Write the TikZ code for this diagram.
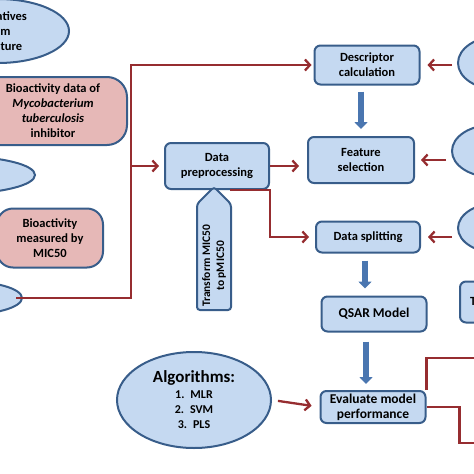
\documentclass[tikz,border=0pt]{standalone}
\usepackage{fontspec}
\setmainfont{Carlito}
\usetikzlibrary{positioning}
\usetikzlibrary{shapes.geometric,shapes.symbols,arrows.meta}
\definecolor{azulclaro}{RGB}{197,217,241}
\definecolor{borde}{RGB}{56,93,138}
\definecolor{rosa}{RGB}{230,184,183}
\definecolor{rojo}{RGB}{150,45,48}
\definecolor{azulflecha}{RGB}{74,118,176}

\begin{document}
\begin{tikzpicture}[x=1pt, y=-1pt,
    every node/.style={font=\bfseries\fontsize{12.5}{15}\selectfont, align=center, text=black},
    caja/.style={draw=borde, line width=2pt, fill=azulclaro, rounded corners=6pt, inner sep=0pt},
    cajarosa/.style={draw=borde, line width=2pt, fill=rosa, rounded corners=20pt, inner sep=0pt},
    elipse/.style={draw=borde, line width=2pt, fill=azulclaro, ellipse, inner sep=0pt},
    linea/.style={draw=rojo, line width=2.3pt},
    flujo/.style={linea, -{Straight Barb[length=5pt,width=11pt]}},
    bajada/.style={draw=azulflecha, line width=5.5pt, -{Triangle[length=7pt,width=13pt]}}]
            \useasboundingbox (0,0) rectangle (474,474);
            \clip (0,0) rectangle (474,474);
            % Nodos
            \node[elipse, minimum width=142pt, minimum height=64pt] (lit) at (-2,31) {Derivatives\\from\\literature};
            \node[cajarosa, minimum width=148pt, minimum height=68pt] (bio) at (53,111) {Bioactivity data of\\\textit{Mycobacterium}\\\textit{tuberculosis}\\inhibitor};
            \node[elipse, minimum width=150pt, minimum height=37pt] (izq2) at (-40,175) {};
            \node[cajarosa, minimum width=106pt, minimum height=59pt, rounded corners=16pt] (mic) at (50,238) {Bioactivity\\measured by\\MIC50};
            \node[elipse, minimum width=120pt, minimum height=34pt] (izq3) at (-38,298) {};
            \coordinate (codo) at (131,298);

            \node[caja, minimum width=104pt, minimum height=46pt] (dp) at (217,166) {Data\\preprocessing};
            \node[caja, signal, signal to=east, rotate=90, rounded corners=3pt, minimum width=123pt, minimum height=34pt,
                  font=\bfseries\fontsize{11.5}{14}\selectfont] (tf) at (214,257) {\hspace*{-18pt}Transform MIC50\\\hspace*{-18pt}to pMIC50};

            \node[caja, minimum width=105pt, minimum height=39pt] (desc) at (367,65) {Descriptor\\calculation};
            \node[caja, minimum width=106pt, minimum height=46pt] (feat) at (361,160) {Feature\\selection};
            \node[caja, minimum width=104pt, minimum height=31pt] (split) at (368,237) {Data splitting};
            \node[caja, minimum width=105pt, minimum height=35pt, font=\bfseries\fontsize{13.5}{15}\selectfont] (qsar) at (374,314) {QSAR Model};
            \node[caja, minimum width=105pt, minimum height=32pt, font=\bfseries\fontsize{13.5}{15}\selectfont] (eval) at (373,407) {Evaluate model\\performance};
            \node[elipse, minimum width=154pt, minimum height=96pt] (alg) at (194,400)
                {{\fontsize{17}{19}\selectfont Algorithms:}\\[1pt]
                 {\fontsize{12}{14}\selectfont 1.\enspace MLR}\\{\fontsize{12}{14}\selectfont 2.\enspace SVM}\\{\fontsize{12}{14}\selectfont 3.\enspace PLS}};

            \node[elipse, minimum width=80pt, minimum height=53pt] (der1) at (498,63) {};
            \node[elipse, minimum width=80pt, minimum height=52pt] (der2) at (492,151) {};
            \node[elipse, minimum width=80pt, minimum height=50pt] (der3) at (498,228) {};
            \node[caja, minimum width=80pt, minimum height=41pt] (der4) at (500,302) {Training set};
            \coordinate (sal1) at (480,358);
            \coordinate (sal2) at (480,443);

            % Aristas
            \draw[flujo, shorten >=2pt] ([xshift=-7pt]izq3.east) -- (codo) |- (desc.west);
            \draw[flujo, shorten >=5pt] (codo |- dp.west) -- (dp.west);
            \draw[flujo, shorten >=8pt] (dp.east) -- (dp.east -| feat.west);
            \draw[flujo, shorten >=6pt] ([xshift=13pt]dp.south) -- (dp.south east) |- (split.west);
            \draw[flujo, shorten <=5pt, shorten >=7pt] (der1.west |- desc.east) -- (desc.east);
            \draw[flujo, shorten <=5pt, shorten >=6pt] (der2.west |- feat.east) -- (feat.east);
            \draw[flujo, shorten <=5pt, shorten >=7pt] (der3.west |- split.east) -- (split.east);
            \draw[flujo, shorten <=6pt, shorten >=8pt] (alg.east) -- (eval.west);
            \draw[bajada, shorten <=6pt, shorten >=7pt] (desc.south -| feat.north) -- (feat.north);
            \draw[bajada, shorten <=7pt, shorten >=7pt] ([xshift=-3pt]split.south) -- ([xshift=-3pt]split.south |- qsar.north);
            \draw[bajada, shorten <=9pt, shorten >=6pt] ([xshift=-8pt]qsar.south) -- ([xshift=-8pt]qsar.south |- eval.north);
            \draw[linea] (eval.north east) |- (sal1);
            \draw[linea] (eval.east) -- ++(33,0) |- (sal2);
\end{tikzpicture}
\end{document}
